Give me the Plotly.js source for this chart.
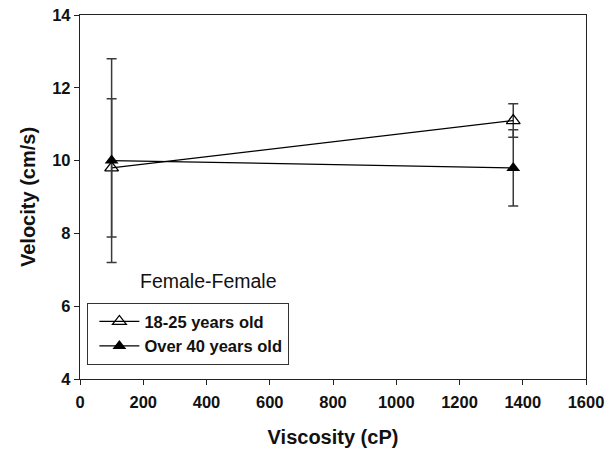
<!DOCTYPE html>
<html>
<head>
<meta charset="utf-8">
<script src="https://cdn.plot.ly/plotly-3.0.1.min.js"></script>
<style>html,body{margin:0;padding:0;background:#fff;}#chart{width:616px;height:450px;}</style>
</head>
<body>
<div id="chart"></div>
<script>
const viscosity = [100, 1370];
const youngNames = "18-25 years old";
const oldNames = "Over 40 years old";
const youngVelocity = [9.8, 11.1];
const youngError = [1.9, 0.46];
const oldVelocity = [10.0, 9.8];
const oldError = [2.8, 1.05];
const xTicks = [0, 200, 400, 600, 800, 1000, 1200, 1400, 1600];
const yTicks = [4, 6, 8, 10, 12, 14];

const errStyle = {type: 'data', visible: true, color: '#3a3a3a', thickness: 1.5, width: 5};

const traces = [
  {
    x: viscosity, y: youngVelocity, name: youngNames, type: 'scatter', mode: 'lines+markers',
    line: {color: '#000', width: 1.2},
    marker: {symbol: 'triangle-up-open', size: 12, color: '#000', line: {width: 1.3, color: '#000'}},
    error_y: Object.assign({array: youngError}, errStyle)
  },
  {
    x: viscosity, y: oldVelocity, name: oldNames, type: 'scatter', mode: 'lines+markers',
    line: {color: '#000', width: 1.2},
    marker: {symbol: 'triangle-up', size: 12, color: '#000'},
    error_y: Object.assign({array: oldError}, errStyle)
  }
];

const fam = 'Liberation Sans, Arial, sans-serif';
const axisFont = {family: fam, size: 16.5, color: '#111', weight: 700};
const titleFont = {family: fam, size: 20, color: '#111', weight: 700};

const layout = {
  width: 616, height: 450,
  margin: {l: 80, r: 30, t: 15, b: 71},
  paper_bgcolor: '#fff', plot_bgcolor: '#fff',
  showlegend: true,
  xaxis: {
    range: [0, 1600], tickvals: xTicks, ticktext: xTicks.map(String),
    ticks: 'outside', ticklen: 5, tickwidth: 1, tickcolor: '#222',
    showline: true, linecolor: '#222', linewidth: 1.2, mirror: true,
    showgrid: false, zeroline: false, tickfont: axisFont, ticklabelstandoff: 3,
    title: {text: 'Viscosity (cP)', font: titleFont, standoff: 20}
  },
  yaxis: {
    range: [4, 14], tickvals: yTicks, ticktext: yTicks.map(String),
    ticks: 'outside', ticklen: 5, tickwidth: 1, tickcolor: '#222',
    showline: true, linecolor: '#222', linewidth: 1.2, mirror: true,
    showgrid: false, zeroline: false, tickfont: axisFont,
    title: {text: 'Velocity (cm/s)', font: titleFont, standoff: 11}
  },
  legend: {
    x: 0.014, y: 0.209, xanchor: 'left', yanchor: 'top',
    bgcolor: '#fff', bordercolor: '#333', borderwidth: 1.3,
    font: {family: fam, size: 16.5, color: '#111', weight: 700},
    tracegroupgap: 0, itemwidth: 40, indentation: 6
  },
  annotations: [{
    x: 405, y: 6.69, xref: 'x', yref: 'y', text: 'Female-Female', showarrow: false,
    font: {family: fam, size: 19.5, color: '#111'}
  }]
};

Plotly.newPlot('chart', traces, layout, {staticPlot: true, displayModeBar: false});
</script>
</body>
</html>
